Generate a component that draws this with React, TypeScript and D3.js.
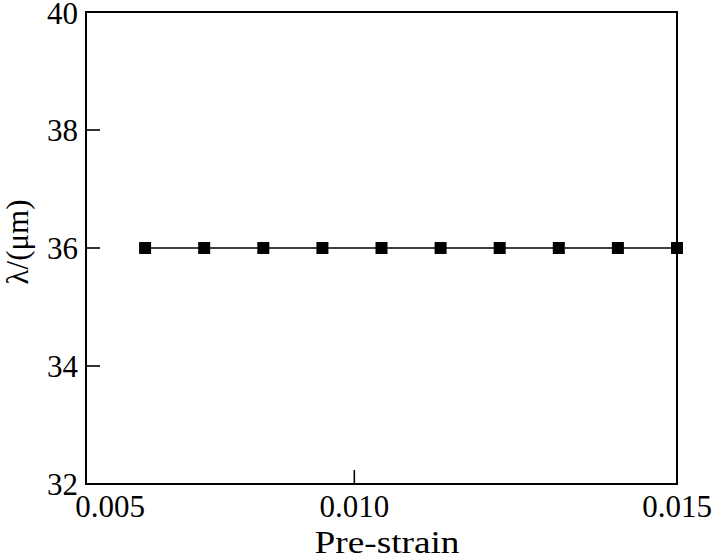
import React from 'react';
import * as d3 from 'd3';

// measured values
const preStrain = [0.006, 0.007, 0.008, 0.009, 0.010, 0.011, 0.012, 0.013, 0.014, 0.015];
const wavelength = [36, 36, 36, 36, 36, 36, 36, 36, 36, 36];

// tick labels (the middle tick sits a little left of 0.010 in the source figure)
const xTickValues = [0.005, 0.00954, 0.015];
const xTickLabels = ['0.005', '0.010', '0.015'];
const yTickValues = [32, 34, 36, 38, 40];

export default function App() {
  const svgWidth = 712;
  const svgHeight = 560;
  const left = 86;
  const right = 677;
  const top = 12;
  const bottom = 484;
  const tickLen = 14;
  const font = "'Liberation Serif', 'DejaVu Serif', serif";

  const xScale = d3.scaleLinear().domain([0.005, 0.015]).range([left, right]);
  const yScale = d3.scaleLinear().domain([32, 40]).range([bottom, top]);

  const points = preStrain.map((d, i) => [d, wavelength[i]] as [number, number]);

  const line = d3.line<[number, number]>()
    .x((d) => xScale(d[0]))
    .y((d) => yScale(d[1]))
    .curve(d3.curveLinear);

  const size = 12;
  const textStyle = { fontFamily: font, fontSize: 31 };

  return (
    <svg
      width={svgWidth}
      height={svgHeight}
      style={{ position: 'absolute', left: 0, top: 0, background: '#fff' }}
    >
      {/* frame */}
      <rect x={left} y={top} width={right - left} height={bottom - top}
        fill="none" stroke="#000" strokeWidth={2} />

      {/* y ticks */}
      {yTickValues.map((v) => (
        <g key={'y' + v}>
          <line x1={left} x2={left + tickLen} y1={yScale(v)} y2={yScale(v)} stroke="#000" strokeWidth={1.6} />
          <text x={78} y={Math.max(yScale(v) + 11, 24)} textAnchor="end" style={textStyle} fill="#000">
            {v}
          </text>
        </g>
      ))}

      {/* x ticks */}
      {xTickValues.map((v, i) => (
        <g key={'x' + i}>
          <line x1={xScale(v)} x2={xScale(v)} y1={bottom} y2={bottom - tickLen} stroke="#000" strokeWidth={1.6} />
          <text x={i === 0 ? xScale(v) + 24 : xScale(v)} y={517} textAnchor="middle"
            style={textStyle} fill="#000">
            {xTickLabels[i]}
          </text>
        </g>
      ))}

      {/* series */}
      <path d={line(points) || ''} fill="none" stroke="#000" strokeWidth={1.4} />
      {points.map((d, i) => (
        <rect key={'p' + i} x={xScale(d[0]) - size / 2} y={yScale(d[1]) - size / 2}
          width={size} height={size} fill="#000" />
      ))}

      {/* axis titles */}
      <text x={387} y={553} textAnchor="middle" style={textStyle}
        textLength={145} lengthAdjust="spacingAndGlyphs" fill="#000">
        Pre-strain
      </text>
      <text transform="translate(28,242) rotate(-90)" textAnchor="middle" style={textStyle} fill="#000">
        λ/(μm)
      </text>
    </svg>
  );
}
